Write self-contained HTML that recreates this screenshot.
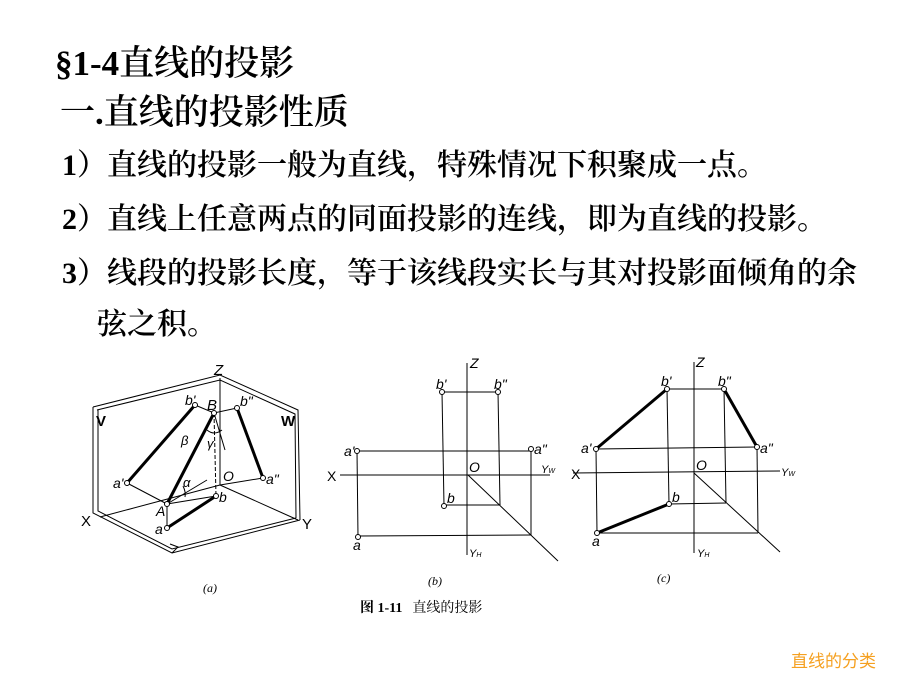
<!DOCTYPE html>
<html><head><meta charset="utf-8"><style>
body{margin:0;width:900px;height:675px;background:#fff;position:relative;overflow:hidden;font-family:"Liberation Serif","Noto Serif CJK SC",serif;color:#000}
.t{position:absolute;white-space:nowrap;line-height:1;font-weight:600}
</style></head><body>
<div class="t" style="left:55px;top:46px;font-size:35px">§1-4直线的投影</div>
<div class="t" style="left:60px;top:95px;font-size:35px">一.直线的投影性质</div>
<div class="t" style="left:62px;top:151px;font-size:30px">1）直线的投影一般为直线，特殊情况下积聚成一点。</div>
<div class="t" style="left:62px;top:205px;font-size:30px">2）直线上任意两点的同面投影的连线，即为直线的投影。</div>
<div class="t" style="left:62px;top:259px;font-size:30px">3）线段的投影长度，等于该线段实长与其对投影面倾角的余</div>
<div class="t" style="left:97px;top:310px;font-size:30px">弦之积。</div>
<div class="t" style="left:791px;top:653px;font-size:17px;font-weight:normal;color:#f5a020;font-family:'Liberation Sans','Noto Sans CJK SC',sans-serif">直线的分类</div>
<svg width="900" height="675" style="position:absolute;left:0;top:0" font-family="Liberation Sans, sans-serif" font-style="italic" font-size="14">
<g stroke="#000" fill="none" stroke-width="1">
<polyline points="93,407 220,375 298,410 300,520"/>
<polyline points="97,410 220,380 295,414 296,518"/>
<polyline points="93,407 93,513 172,553 300,520"/>
<polyline points="98,410 98,511 172,549 296,518"/>
<line x1="100" y1="517" x2="220" y2="485"/>
<line x1="220" y1="485" x2="298" y2="520"/>
<line x1="220" y1="378" x2="220" y2="485"/>
<polyline points="170,544 178,547 172,553"/>
<polyline points="195,405 214,413 237,408"/>
<line x1="127" y1="483" x2="167" y2="504"/>
<line x1="167" y1="504" x2="167" y2="528"/>
<line x1="167" y1="504" x2="207" y2="480"/>
<line x1="214" y1="413" x2="216" y2="496" stroke-dasharray="4,2"/>
<line x1="214" y1="413" x2="225" y2="450"/>
<line x1="220" y1="485" x2="263" y2="478"/>
<line x1="167" y1="504" x2="216" y2="496"/>
<path d="M207,430 Q214,436 222,430"/>
<path d="M183,486 Q186,492 185,497"/>
<g stroke-width="3">
<line x1="127" y1="483" x2="195" y2="405"/>
<line x1="167" y1="504" x2="214" y2="413"/>
<line x1="237" y1="408" x2="263" y2="478"/>
<line x1="167" y1="528" x2="216" y2="496"/>
</g>
<line x1="467" y1="363" x2="467" y2="555"/>
<line x1="340" y1="475" x2="550" y2="475"/>
<line x1="468" y1="475" x2="558" y2="561"/>
<line x1="357" y1="451" x2="531" y2="451"/>
<line x1="442" y1="392" x2="498" y2="392"/>
<line x1="442" y1="392" x2="444" y2="506"/>
<line x1="357" y1="451" x2="358" y2="537"/>
<line x1="358" y1="536" x2="531" y2="535"/>
<line x1="444" y1="505" x2="500" y2="505"/>
<line x1="498" y1="392" x2="500" y2="505"/>
<line x1="531" y1="451" x2="531" y2="535"/>
<line x1="694" y1="362" x2="694" y2="553"/>
<line x1="573" y1="473" x2="780" y2="471"/>
<line x1="694" y1="473" x2="780" y2="552"/>
<line x1="596" y1="449" x2="757" y2="447"/>
<line x1="667" y1="389" x2="724" y2="389"/>
<line x1="667" y1="389" x2="669" y2="504"/>
<line x1="724" y1="389" x2="726" y2="503"/>
<line x1="669" y1="504" x2="726" y2="503"/>
<line x1="596" y1="449" x2="597" y2="533"/>
<line x1="757" y1="447" x2="758" y2="533"/>
<line x1="597" y1="533" x2="758" y2="533"/>
<g stroke-width="3">
<line x1="596" y1="449" x2="667" y2="389"/>
<line x1="724" y1="389" x2="757" y2="447"/>
<line x1="597" y1="533" x2="669" y2="504"/>
</g>
</g>
<g fill="#fff" stroke="#000" stroke-width="1">
<circle cx="195" cy="405" r="2.5"/><circle cx="214" cy="413" r="2.5"/><circle cx="237" cy="408" r="2.5"/>
<circle cx="127" cy="483" r="2.5"/><circle cx="263" cy="478" r="2.5"/><circle cx="167" cy="504" r="2.5"/>
<circle cx="216" cy="496" r="2.5"/><circle cx="167" cy="528" r="2.5"/>
<circle cx="357" cy="451" r="2.5"/><circle cx="531" cy="449" r="2.5"/><circle cx="442" cy="392" r="2.5"/>
<circle cx="498" cy="392" r="2.5"/><circle cx="444" cy="506" r="2.5"/><circle cx="358" cy="537" r="2.5"/>
<circle cx="596" cy="449" r="2.5"/><circle cx="757" cy="447" r="2.5"/><circle cx="667" cy="389" r="2.5"/>
<circle cx="724" cy="389" r="2.5"/><circle cx="669" cy="504" r="2.5"/><circle cx="597" cy="533" r="2.5"/>
</g>
<g fill="#000">
<text x="214" y="375" font-size="15">Z</text>
<text x="96" y="426" font-size="15" font-style="normal" font-weight="bold">V</text>
<text x="281" y="426" font-size="15" font-style="normal" font-weight="bold">W</text>
<text x="185" y="405">b'</text><text x="207" y="410" font-size="15">B</text><text x="240" y="406">b"</text>
<text x="181" y="445" font-size="13">β</text><text x="207" y="448" font-size="13">γ</text>
<text x="113" y="488">a'</text><text x="266" y="484">a"</text>
<text x="223" y="481">O</text><text x="183" y="487" font-size="13">α</text>
<text x="156" y="516">A</text><text x="219" y="502">b</text><text x="155" y="534">a</text>
<text x="81" y="526" font-size="15" font-style="normal">X</text><text x="302" y="529" font-size="15" font-style="normal">Y</text>
<text x="203" y="592" font-family="Liberation Serif, serif" font-size="12">(a)</text>
<text x="470" y="368">Z</text><text x="436" y="389">b'</text><text x="494" y="389">b"</text>
<text x="344" y="456">a'</text><text x="534" y="454">a"</text>
<text x="469" y="472">O</text><text x="541" y="473" font-size="11">Y<tspan font-size="7">W</tspan></text>
<text x="327" y="481" font-style="normal" font-size="14">X</text>
<text x="447" y="503">b</text><text x="353" y="550">a</text>
<text x="469" y="557" font-size="11">Y<tspan font-size="7">H</tspan></text>
<text x="428" y="585" font-family="Liberation Serif, serif" font-size="12">(b)</text>
<text x="360" y="612" font-family="Liberation Serif, 'Noto Serif CJK SC', serif" font-style="normal" font-weight="bold" font-size="14">图 1-11<tspan dx="10" font-weight="normal">直线的投影</tspan></text>
<text x="696" y="367">Z</text><text x="661" y="386">b'</text><text x="718" y="386">b"</text>
<text x="581" y="453">a'</text><text x="760" y="453">a"</text>
<text x="696" y="470">O</text><text x="781" y="476" font-size="11">Y<tspan font-size="7">W</tspan></text>
<text x="571" y="479" font-style="normal" font-size="14">X</text>
<text x="672" y="502">b</text><text x="592" y="546">a</text>
<text x="697" y="557" font-size="11">Y<tspan font-size="7">H</tspan></text>
<text x="657" y="582" font-family="Liberation Serif, serif" font-size="12">(c)</text>
</g>
</svg>
</body></html>
